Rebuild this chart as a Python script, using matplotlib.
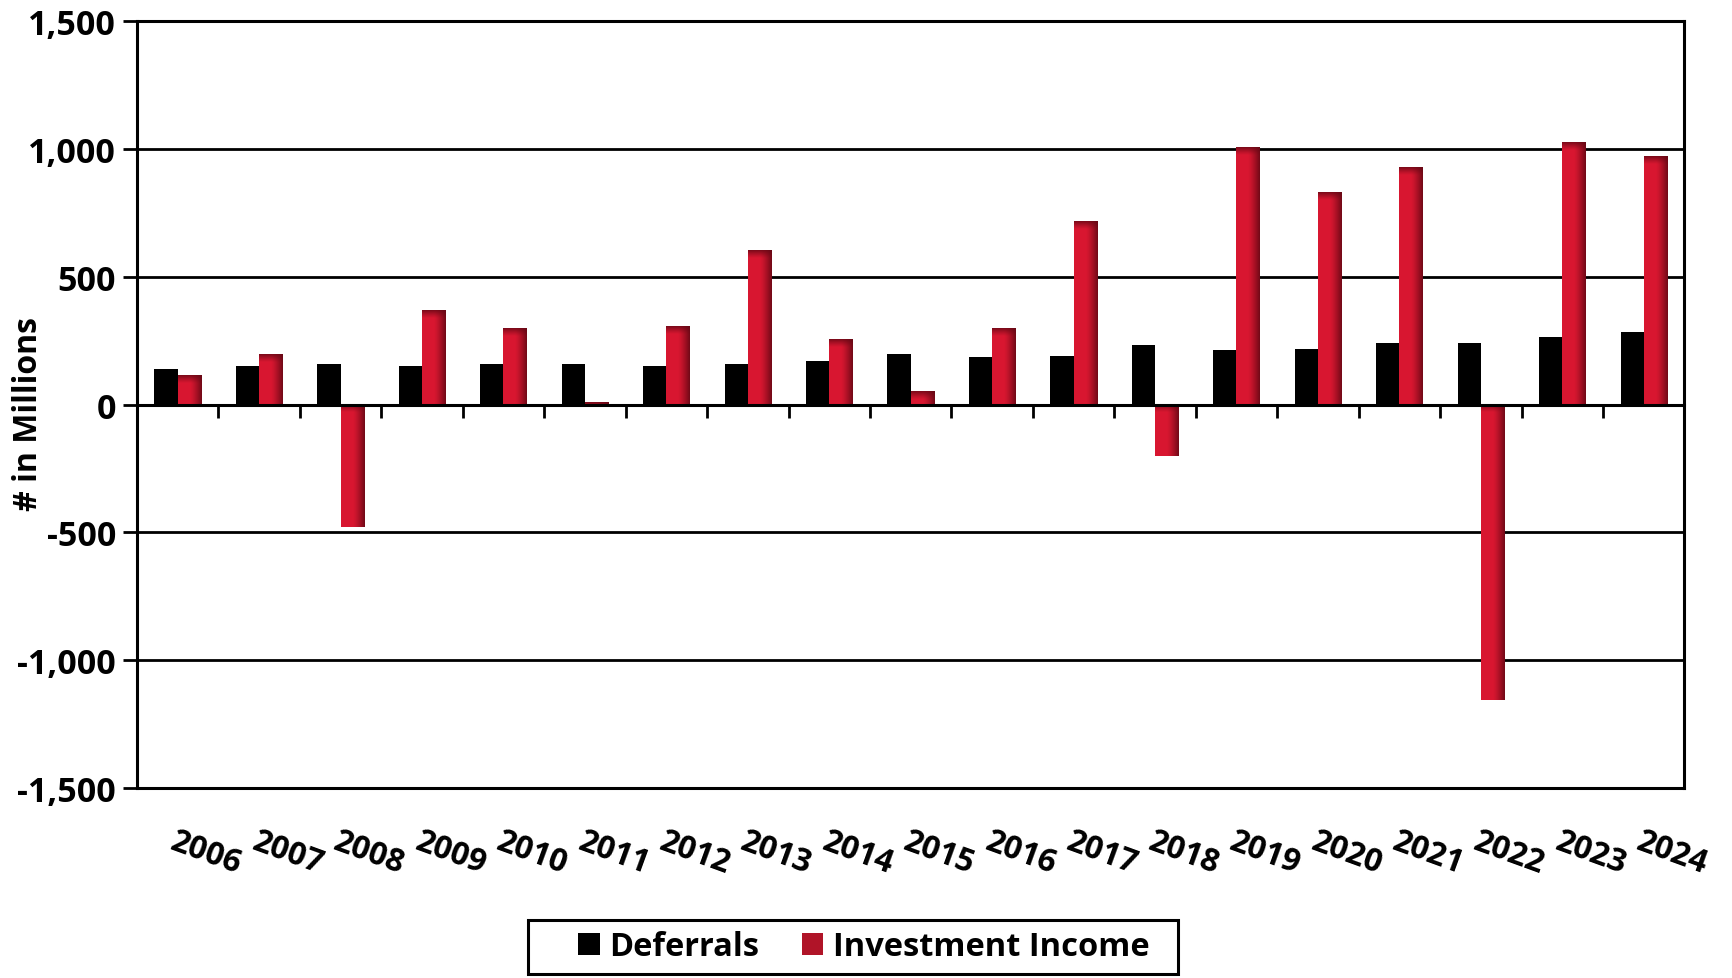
import numpy as np
import matplotlib
matplotlib.use('Agg')
import matplotlib.pyplot as plt
from matplotlib.ticker import FuncFormatter
from matplotlib.patches import Patch, Rectangle

years = [str(y) for y in range(2006, 2025)]
deferrals = [138, 152, 160, 151, 158, 158, 149, 158, 172, 197, 187, 191, 233, 214, 216, 242, 240, 263, 284]
investment_income = [116, 198, -478, 370, 300, 11, 307, 603, 256, 53, 300, 716, -201, 1008, 832, 930, -1155, 1027, 971]
y_ticks = [-1500, -1000, -500, 0, 500, 1000, 1500]
series_names = ['Deferrals', 'Investment Income']

plt.rcParams['font.family'] = ['Open Sans', 'DejaVu Sans']
plt.rcParams['font.weight'] = 'bold'

fig = plt.figure(figsize=(17.33, 9.79), dpi=100)
ax = fig.add_axes([0.079, 0.194, 0.893, 0.7835])

x = np.arange(len(years))
w = 0.285
bright = np.array([0.85, 0.09, 0.19])
dark = np.array([0.40, 0.03, 0.08])

b1 = ax.bar(x - w / 2, deferrals, w, color='black', zorder=3)
b2 = ax.bar(x + w / 2, investment_income, w, color=bright, zorder=3)

cap = 32.0
for p in b2.patches:
    x0 = p.get_x(); pw = p.get_width()
    y0 = p.get_y(); ph = p.get_height()
    yb, yt = min(y0, y0 + ph), max(y0, y0 + ph)
    nx, ny = 64, 600
    t = (np.arange(nx) + 0.5) / nx
    yy = yb + (np.arange(ny) + 0.5) / ny * (yt - yb)
    dh = np.clip((t - 0.5) / 0.5, 0, 1) ** 1.3 * 0.92
    c = np.clip(1 - (yt - yy) / cap, 0, 1) ** 1.2 * 0.85
    dk = 1 - (1 - dh[None, :]) * (1 - c[:, None])
    img = bright[None, None, :] * (1 - dk[..., None]) + dark[None, None, :] * dk[..., None]
    im = ax.imshow(img, extent=[x0, x0 + pw, yb, yt], origin='lower', aspect='auto',
                   interpolation='bilinear', zorder=3.5)
    im.set_clip_path(p)

ax.set_xlim(-0.5, len(years) - 0.5)
ax.set_ylim(y_ticks[0], y_ticks[-1])
ax.set_yticks(y_ticks)
ax.yaxis.set_major_formatter(FuncFormatter(lambda v, pos: f'{int(v):,}'))
ax.tick_params(axis='y', length=10, width=2, labelsize=24.5, pad=5, colors='black')
ax.grid(axis='y', color='black', lw=2)
ax.set_axisbelow(True)
for s in ax.spines.values():
    s.set_linewidth(2.2)
    s.set_color('black')

ax.set_xticks(x)
ax.set_xticklabels(years, rotation=-20, ha='left', rotation_mode='anchor',
                   fontsize=23, fontweight='bold')
ax.tick_params(axis='x', length=0, pad=26)

sec = ax.secondary_xaxis(0, transform=ax.transData)
sec.set_xticks(np.arange(len(years) + 1) - 0.5)
sec.tick_params(axis='x', length=9, width=2, labelbottom=False, direction='out')
sec.spines['bottom'].set_linewidth(2.2)
sec.set_zorder(5)

fig.text(0.0165, 0.577, '# in Millions', rotation=90, ha='center', va='center',
         fontsize=23, fontweight='bold')

handles = [Patch(facecolor='black', label=series_names[0]),
           Patch(facecolor='#b01428', label=series_names[1])]
leg = fig.legend(handles=handles, loc='center', bbox_to_anchor=(0.4985, 0.032), ncol=2,
                 frameon=False, prop={'size': 23.5, 'weight': 'bold'},
                 handlelength=0.65, handleheight=0.65,
                 handletextpad=0.3, columnspacing=1.3, borderpad=0.2)

fig.canvas.draw()
bb = leg.get_window_extent()
fw, fh = fig.bbox.width, fig.bbox.height
padl, padr, padv = 44, 22, 4
frame = Rectangle(((bb.x0 - padl) / fw, (bb.y0 - padv) / fh),
                  (bb.width + padl + padr) / fw, (bb.height + 2 * padv) / fh,
                  transform=fig.transFigure, fill=False, edgecolor='black', lw=2.2)
fig.add_artist(frame)

fig.savefig('out.png', dpi=100)
